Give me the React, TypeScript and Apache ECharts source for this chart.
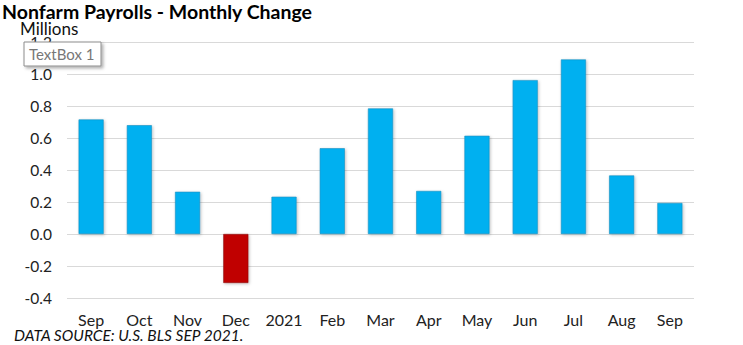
import React, { useEffect, useRef } from "react";
import * as echarts from "echarts";

const categories = ["Sep", "Oct", "Nov", "Dec", "2021", "Feb", "Mar", "Apr", "May", "Jun", "Jul", "Aug", "Sep"];
const payrollChange = [0.716, 0.68, 0.264, -0.306, 0.233, 0.536, 0.785, 0.269, 0.614, 0.962, 1.091, 0.366, 0.194];
const yMin = -0.4;
const yMax = 1.2;
const yStep = 0.2;

const FONT = "Lato, 'Open Sans', sans-serif";

export default function App() {
  const ref = useRef<HTMLDivElement>(null);
  useEffect(() => {
    document.body.style.margin = "0";
    const chart = echarts.init(ref.current!, null, { renderer: "svg" });
    chart.setOption({
      animation: false,
      backgroundColor: "#ffffff",
      textStyle: { fontFamily: FONT },
      grid: { left: 67, right: 49, top: 42, bottom: 47 },
      xAxis: {
        type: "category",
        data: categories,
        axisLine: { show: false },
        axisTick: { show: false },
        axisLabel: { color: "#222", fontSize: 16, margin: 13, interval: 0, hideOverlap: false, fontFamily: FONT },
      },
      yAxis: {
        type: "value",
        min: yMin,
        max: yMax,
        interval: yStep,
        axisLine: { show: false },
        axisTick: { show: false },
        splitLine: { lineStyle: { color: "#d9d9d9", width: 1 } },
        axisLabel: {
          color: "#222",
          fontSize: 15.5,
          margin: 15,
          fontFamily: FONT,
          formatter: (v: number) => (Math.abs(v) < 1e-9 ? "0.0" : v.toFixed(1)),
        },
      },
      series: [
        {
          type: "bar",
          barWidth: "52%",
          data: payrollChange.map((v) => ({
            value: v,
            itemStyle: {
              color: v < 0 ? "#C00000" : "#00B0F0",
              borderColor: v < 0 ? "#8f1010" : "#1b8fc0",
              borderWidth: 0.6,
              shadowBlur: 3,
              shadowColor: "rgba(0,0,0,0.25)",
              shadowOffsetX: 1,
              shadowOffsetY: 1,
            },
          })),
        },
      ],
      graphic: [
        {
          type: "text",
          left: 2,
          top: 1,
          style: { text: "Nonfarm Payrolls - Monthly Change", fontSize: 19.5, fontWeight: "bold", fill: "#000", fontFamily: FONT },
        },
        {
          type: "text",
          left: 20,
          top: 20,
          style: { text: "Millions", fontSize: 17, fill: "#111", fontFamily: FONT },
        },
        {
          type: "rect",
          shape: { x: 24, y: 42, width: 77, height: 24 },
          style: {
            fill: "#ffffff",
            stroke: "#8c8c8c",
            lineWidth: 1,
            shadowBlur: 3,
            shadowOffsetX: 2,
            shadowOffsetY: 2,
            shadowColor: "rgba(0,0,0,0.3)",
          },
          z: 100,
        },
        {
          type: "text",
          x: 29,
          y: 46,
          z: 101,
          style: { text: "TextBox 1", fontSize: 15, fill: "#777", fontFamily: FONT },
        },
        {
          type: "text",
          left: 14,
          top: 327,
          style: { text: "DATA SOURCE: U.S. BLS SEP 2021.", fontSize: 15.5, fontStyle: "italic", fill: "#111", fontFamily: FONT },
        },
      ],
    });
    return () => chart.dispose();
  }, []);
  return <div ref={ref} style={{ width: 743, height: 345 }} />;
}
